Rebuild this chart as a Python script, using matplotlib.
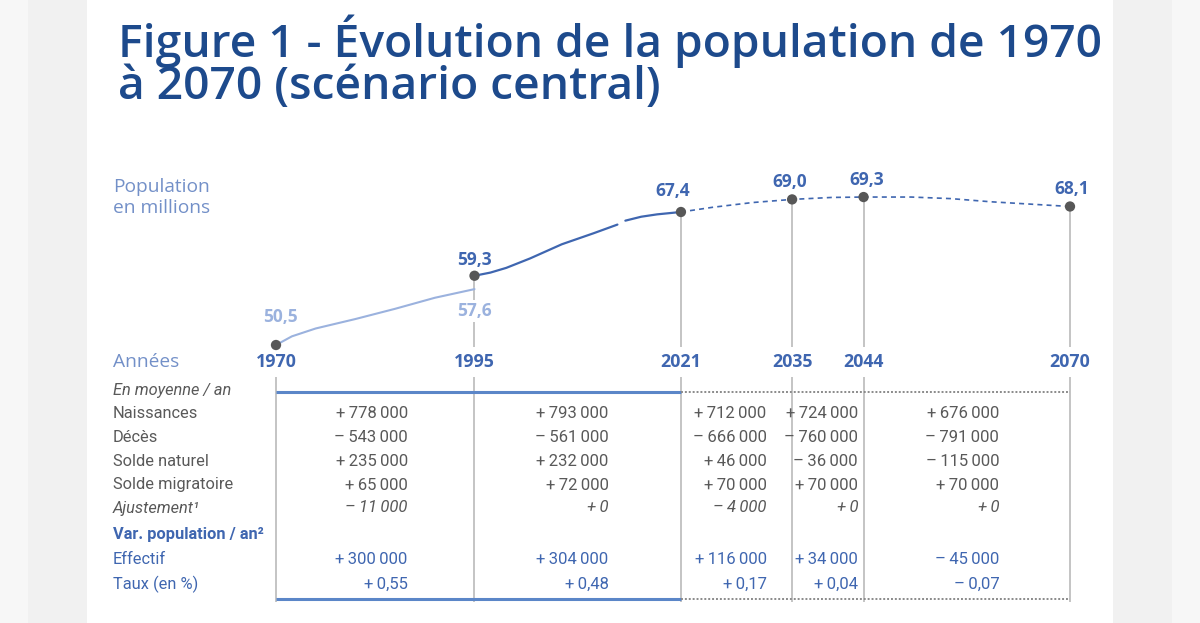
import matplotlib.pyplot as plt
from matplotlib.patches import Rectangle

# ======================
# DATA
# ======================
years_marked = [1970, 1995, 2021, 2035, 2044, 2070]
pop_marked = [50.5, 59.3, 67.4, 69.0, 69.3, 68.1]

# metropolitan series (light)
hist1_years = [1970, 1972, 1975, 1980, 1985, 1990, 1995]
hist1_pop = [50.5, 51.6, 52.6, 53.8, 55.1, 56.5, 57.6]

# France incl. DOM (dark), with break around 2013/2014
hist2_years = [1995, 1997, 1999, 2002, 2006, 2010, 2013]
hist2_pop = [59.3, 59.7, 60.3, 61.5, 63.3, 64.7, 65.8]
hist3_years = [2014, 2016, 2018, 2021]
hist3_pop = [66.3, 66.8, 67.1, 67.4]

# projection
proj_years = [2021, 2025, 2030, 2035, 2040, 2044, 2050, 2055, 2060, 2065, 2070]
proj_pop = [67.4, 68.0, 68.6, 69.0, 69.25, 69.3, 69.3, 69.1, 68.7, 68.4, 68.1]

row_labels = ["En moyenne / an", "Naissances", "Décès", "Solde naturel",
              "Solde migratoire", "Ajustement¹", "Var. population / an²",
              "Effectif", "Taux (en %)"]
naissances = [778000, 793000, 712000, 724000, 676000]
deces = [-543000, -561000, -666000, -760000, -791000]
solde_naturel = [235000, 232000, 46000, -36000, -115000]
solde_migratoire = [65000, 72000, 70000, 70000, 70000]
ajustement = [-11000, 0, -4000, 0, 0]
effectif = [300000, 304000, 116000, 34000, -45000]
taux = [0.55, 0.48, 0.17, 0.04, -0.07]

THIN = "\u2009"


def fmt_int(v):
    s = f"{abs(v):,}".replace(",", THIN)
    return ("+" if v >= 0 else "–") + THIN + s


def fmt_pct(v):
    return ("+" if v >= 0 else "–") + THIN + f"{abs(v):.2f}".replace(".", ",")


# ======================
# STYLE
# ======================
TITLE_C = "#1d4a8c"
DARK_BLUE = "#3f66b0"
LIGHT_BLUE = "#9bb2de"
LABEL_BLUE = "#7390c8"
GREY_TXT = "#595959"
DOT_C = "#575757"
VLINE_C = "#b4b4b4"
RULE_C = "#5b86c8"

W, H = 1200, 623
fig = plt.figure(figsize=(W / 100, H / 100), dpi=100, facecolor="#f7f7f7")
fig.patches.append(Rectangle((28 / W, 0), (1172 - 28) / W, 1, transform=fig.transFigure,
                             facecolor="#f1f1f1", edgecolor="none", zorder=-20))
fig.patches.append(Rectangle((87 / W, 0), (1113 - 87) / W, 1, transform=fig.transFigure,
                             facecolor="white", edgecolor="none", zorder=-10))

fig.text(118 / W, 1 - 62 / H,
         "Figure 1 - Évolution de la population de 1970\nà 2070 (scénario central)",
         fontsize=33.3, fontweight="semibold", family="Open Sans", color=TITLE_C,
         va="center", linespacing=0.9)

# chart axes: x in years, y in millions
px_per_year = 7.94
px_per_unit = 7.87
x0 = 1970 - 276 / px_per_year
x1 = 1970 + (W - 276) / px_per_year
y0 = 50.5 - (H - 345) / px_per_unit
y1 = 50.5 + 345 / px_per_unit

ax = fig.add_axes([0, 0, 1, 1])
ax.set_xlim(x0, x1)
ax.set_ylim(y0, y1)
ax.axis("off")
ax.patch.set_alpha(0)

# table axes: x in years, y in pixels from top
tx = fig.add_axes([0, 0, 1, 1])
tx.set_xlim(x0, x1)
tx.set_ylim(H, 0)
tx.axis("off")
tx.patch.set_alpha(0)

# lines
ax.plot(hist1_years, hist1_pop, color=LIGHT_BLUE, lw=1.5, solid_capstyle="round")
ax.plot(hist2_years, hist2_pop, color=DARK_BLUE, lw=1.6, solid_capstyle="round")
ax.plot(hist3_years, hist3_pop, color=DARK_BLUE, lw=1.6, solid_capstyle="round")
ax.plot(proj_years, proj_pop, color=DARK_BLUE, lw=1.2, ls=(0, (3, 2.5)))

# drop lines from points to year labels
for yr, v in zip(years_marked[1:], pop_marked[1:]):
    ax.vlines(yr, 50.5 - 2 / px_per_unit, v, color=VLINE_C, lw=1.1, zorder=1)

ax.scatter(years_marked, pop_marked, s=55, color=DOT_C, zorder=5, edgecolors="none")

# value labels
lab_kw = dict(textcoords="offset pixels", ha="center", va="center", fontsize=12.5,
              fontweight="bold", family="Open Sans")
ax.annotate("50,5", (1970, 50.5), xytext=(4, 28), color=LIGHT_BLUE, **lab_kw)
ax.annotate("57,6", (1995, hist1_pop[-1]), xytext=(0, -22), color=LIGHT_BLUE, zorder=4,
            bbox=dict(boxstyle="square,pad=0.1", fc="white", ec="none"), **lab_kw)
offsets = [None, (0, 16), (-8, 21), (-2, 17), (3, 17), (2, 17)]
for yr, v, off in zip(years_marked, pop_marked, offsets):
    if off is None:
        continue
    ax.annotate(f"{v:.1f}".replace(".", ","), (yr, v), xytext=off, color=DARK_BLUE, **lab_kw)

fig.text(113 / W, 1 - 187 / H, "Population", fontsize=13.8, family="Open Sans",
         color=LABEL_BLUE, va="center")
fig.text(113 / W, 1 - 208 / H, "en millions", fontsize=13.8, family="Open Sans",
         color=LABEL_BLUE, va="center")

# year labels
fig.text(113 / W, 1 - 362 / H, "Années", fontsize=13.8, family="Open Sans",
         color=LABEL_BLUE, va="center")
for yr in years_marked:
    tx.text(yr, 362, str(yr), ha="center", va="center", fontsize=12.8,
            fontweight="bold", family="Open Sans", color=DARK_BLUE)

# ======================
# TABLE
# ======================
row_y = [391, 413, 437, 461, 485, 508, 535, 560, 584]
top_rule, bottom_rule = 392, 599

tx.vlines(years_marked, 377, 602, color=VLINE_C, lw=1.1, zorder=1)
tx.hlines([top_rule, bottom_rule], 1970, 2021, color=RULE_C, lw=2.2, zorder=2)
tx.hlines([top_rule, bottom_rule], 2021, 2070, color="#8a8a8a", lw=1.4,
          linestyles=(0, (1, 1)), zorder=2)

tfont = ["Roboto", "DejaVu Sans"]
label_styles = [
    dict(color=GREY_TXT, style="italic"),
    dict(color=GREY_TXT), dict(color=GREY_TXT), dict(color=GREY_TXT),
    dict(color=GREY_TXT),
    dict(color=GREY_TXT, style="italic"),
    dict(color=DARK_BLUE, weight="bold"),
    dict(color=DARK_BLUE), dict(color=DARK_BLUE),
]
for lab, yy, st in zip(row_labels, row_y, label_styles):
    tx.text(x0 + 113 / px_per_year, yy, lab, ha="left", va="center",
            fontsize=11.8, family=tfont, **st)

col_text_x = [1986.6, 2011.9, 2031.8, 2043.3, 2061.1]
table_rows = [
    (naissances, 1, GREY_TXT, "normal", fmt_int),
    (deces, 2, GREY_TXT, "normal", fmt_int),
    (solde_naturel, 3, GREY_TXT, "normal", fmt_int),
    (solde_migratoire, 4, GREY_TXT, "normal", fmt_int),
    (ajustement, 5, GREY_TXT, "italic", fmt_int),
    (effectif, 7, DARK_BLUE, "normal", fmt_int),
    (taux, 8, DARK_BLUE, "normal", fmt_pct),
]
for vals, ri, col, sty, f in table_rows:
    for xx, v in zip(col_text_x, vals):
        tx.text(xx, row_y[ri], f(v), ha="right", va="center", fontsize=12,
                family=tfont, color=col, style=sty)

fig.savefig("out.png", dpi=100, facecolor=fig.get_facecolor())
